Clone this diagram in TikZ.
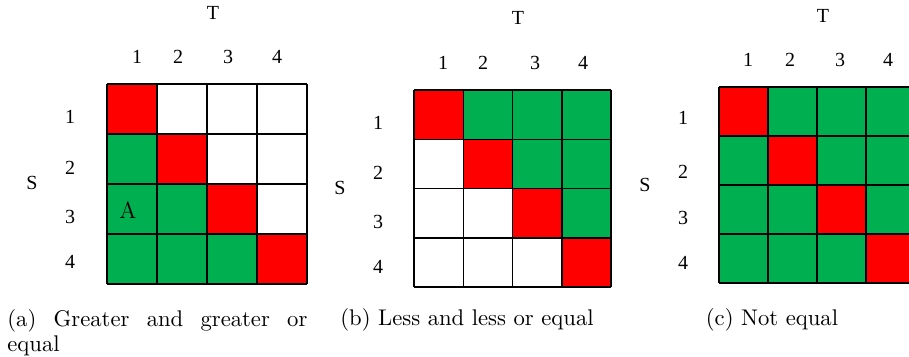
\documentclass[tikz,border=0pt]{standalone}
\usepackage{fontspec}
\newfontfamily\labfont{Liberation Serif}
\definecolor{col1}{HTML}{FF0000}
\definecolor{col2}{HTML}{00B050}
\definecolor{col0}{HTML}{FFFFFF}
\begin{document}
\begin{tikzpicture}[x=0.47pt,y=-0.47pt,
  lab/.style={font=\labfont\fontsize{9.4}{11}\selectfont, inner sep=0pt},
  captext/.style={font=\fontsize{10.65}{11.8}\selectfont, inner sep=0pt},
  gridline/.style={draw=black, line width=0.7pt}]
\useasboundingbox (0,0) rectangle (909,356);
\clip (0,0) rectangle (909,356);
% ---------- panel (a) ----------
\begin{scope}[shift={(107,84)}]
\foreach \r/\row in {0/{1,0,0,0},1/{2,1,0,0},2/{2,2,1,0},3/{2,2,2,1}}{
  \foreach \v [count=\c from 0] in \row {
    \fill[fill=col\v] (\c*50,\r*50) rectangle ++(50,50);
  }
}
\foreach \i in {0,...,4}{
  \draw[gridline] (\i*50,0) -- (\i*50,200);
  \draw[gridline] (0,\i*50) -- (200,\i*50);
}
\end{scope}
\node[lab] (aT) at (213,13) {T};
\node[lab] (ac1) at (137,57) {1};
\node[lab] (ac2) at (178,57) {2};
\node[lab] (ac3) at (228,57) {3};
\node[lab] (ac4) at (277,57) {4};
\node[lab] (ar1) at (70,117) {1};
\node[lab] (ar2) at (70,168) {2};
\node[lab] (ar3) at (70,217) {3};
\node[lab] (ar4) at (70,262) {4};
\node[lab] (aS) at (32,183) {S};
\node[font=\fontsize{11}{13}\selectfont, inner sep=0pt] (aA) at (128,210) {A};
\node[captext, anchor=north west, text width=141pt, align=justify] (acap) at (7,309)
  {(a) Greater and greater or equal};
% ---------- panel (b) ----------
\begin{scope}[shift={(414,90)}]
\foreach \r/\row in {0/{1,2,2,2},1/{0,1,2,2},2/{0,0,1,2},3/{0,0,0,1}}{
  \foreach \v [count=\c from 0] in \row {
    \fill[fill=col\v] (\c*49.25,\r*49.25) rectangle ++(49.25,49.25);
  }
}
\foreach \i in {0,...,4}{
  \draw[gridline] (\i*49.25,0) -- (\i*49.25,197);
  \draw[gridline] (0,\i*49.25) -- (197,\i*49.25);
}
\end{scope}
\node[lab] (bT) at (518,18) {T};
\node[lab] (bc1) at (443,63) {1};
\node[lab] (bc2) at (483,63) {2};
\node[lab] (bc3) at (535,63) {3};
\node[lab] (bc4) at (583,63) {4};
\node[lab] (br1) at (378,123) {1};
\node[lab] (br2) at (378,173) {2};
\node[lab] (br3) at (378,222) {3};
\node[lab] (br4) at (378,267) {4};
\node[lab] (bS) at (340,188) {S};
\node[captext, anchor=base] (bcap) at (467,325) {(b) Less and less or equal};
% ---------- panel (c) ----------
\begin{scope}[shift={(719,87)}]
\foreach \r/\row in {0/{1,2,2,2},1/{2,1,2,2},2/{2,2,1,2},3/{2,2,2,1}}{
  \foreach \v [count=\c from 0] in \row {
    \fill[fill=col\v] (\c*49,\r*49) rectangle ++(49,49);
  }
}
\foreach \i in {0,...,4}{
  \draw[gridline] (\i*49,0) -- (\i*49,196);
  \draw[gridline] (0,\i*49) -- (196,\i*49);
}
\end{scope}
\node[lab] (cT) at (823,16) {T};
\node[lab] (cc1) at (748,60) {1};
\node[lab] (cc2) at (790,60) {2};
\node[lab] (cc3) at (840,60) {3};
\node[lab] (cc4) at (888,60) {4};
\node[lab] (cr1) at (683,118) {1};
\node[lab] (cr2) at (683,172) {2};
\node[lab] (cr3) at (683,218) {3};
\node[lab] (cr4) at (683,263) {4};
\node[lab] (cS) at (645,185) {S};
\node[captext, anchor=base] (ccap) at (772,325) {(c) Not equal};
\end{tikzpicture}
\end{document}
